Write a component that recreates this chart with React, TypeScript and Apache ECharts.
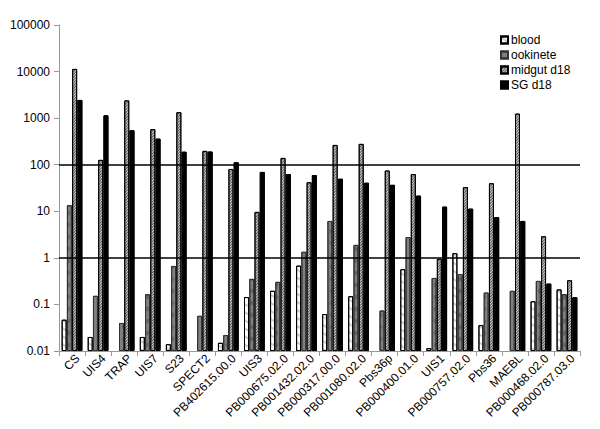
import React, { useEffect, useRef } from "react";
import * as echarts from "echarts";

const categories = [
  "CS", "UIS4", "TRAP", "UIS7", "S23", "SPECT2", "PB402615.00.0", "UIS3",
  "PB000675.02.0", "PB001432.02.0", "PB000317.00.0", "PB001080.02.0", "Pbs36p",
  "PB000400.01.0", "UIS1", "PB000757.02.0", "Pbs36", "MAEBL", "PB000468.02.0", "PB000787.03.0",
];

const blood = [0.047, 0.02, null, 0.02, 0.014, null, 0.015, 0.144, 0.196, 0.68, 0.062, 0.15, null, 0.57, 0.0115, 1.26, 0.036, null, 0.117, 0.21];
const ookinete = [13.5, 0.153, 0.04, 0.166, 0.67, 0.057, 0.022, 0.354, 0.305, 1.35, 6.2, 1.9, 0.074, 2.8, 0.37, 0.45, 0.18, 0.196, 0.32, 0.166];
const midgut = [11400, 127, 2400, 580, 1340, 198, 81, 9.7, 140, 42, 266, 280, 75, 63, 0.95, 33, 40, 1250, 2.9, 0.33];
const sg = [2460, 1150, 550, 363, 190, 192, 113, 70, 63, 60, 50, 41, 37, 21.7, 12.6, 11.4, 7.5, 6.2, 0.28, 0.143];

const refLines = [1, 100];

const FONT = "Liberation Sans, Arial, sans-serif";

export default function App() {
  const ref = useRef<HTMLDivElement>(null);
  useEffect(() => {
    if (!ref.current) return;
    const chart = echarts.init(ref.current, null, { renderer: "svg" });
    chart.setOption({
      animation: false,
      backgroundColor: "#fff",
      aria: { enabled: true, decal: { show: true } },
      textStyle: { fontFamily: FONT },
      grid: { left: 59, right: 20, top: 25, bottom: 78, containLabel: false },
      legend: {
        orient: "vertical",
        left: 500,
        top: 34,
        padding: 0,
        icon: "rect",
        itemWidth: 7,
        itemHeight: 7,
        itemGap: 3,
        textStyle: { fontSize: 12, color: "#000", fontFamily: FONT, padding: [0, 0, 0, -2] },
        data: ["blood", "ookinete", "midgut d18", "SG d18"],
      },
      xAxis: {
        type: "category",
        data: categories,
        axisLine: { lineStyle: { color: "#999", width: 1 } },
        axisTick: { show: true, lineStyle: { color: "#999" }, length: 5 },
        axisLabel: {
          rotate: 45,
          interval: 0,
          fontSize: 12,
          color: "#000",
          fontFamily: FONT,
          margin: 11,
          padding: [0, -8, 0, 0],
        },
      },
      yAxis: {
        type: "log",
        logBase: 10,
        min: 0.01,
        max: 100000,
        startValue: 0.01,
        splitLine: { show: false },
        axisLine: { show: true, lineStyle: { color: "#999", width: 1 } },
        axisTick: { show: true, lineStyle: { color: "#999" }, length: 5 },
        axisLabel: {
          fontSize: 12,
          color: "#000",
          fontFamily: FONT,
          margin: 9,
          formatter: (v: number) => String(v),
        },
      },
      series: [
        {
          name: "blood",
          type: "bar",
          data: blood,
          barWidth: 5,
          barGap: "5%",
          barCategoryGap: "20%",
          itemStyle: { color: "#fff", borderColor: "#000", borderWidth: 1, decal: "none" },
          markLine: {
            silent: true,
            symbol: "none",
            label: { show: false },
            lineStyle: { color: "#000", width: 1.5, type: "solid" },
            data: refLines.map((v) => ({ yAxis: v })),
          },
        },
        {
          name: "ookinete",
          type: "bar",
          data: ookinete,
          barWidth: 5,
          barGap: "5%",
          itemStyle: { color: "#808080", borderColor: "#333", borderWidth: 1, decal: "none" },
        },
        {
          name: "midgut d18",
          type: "bar",
          data: midgut,
          barWidth: 5,
          barGap: "5%",
          itemStyle: {
            color: "#cfcfcf",
            borderColor: "#000",
            borderWidth: 1,
            decal: {
              symbol: "rect",
              symbolSize: 1,
              color: "#555",
              dashArrayX: [1, 0],
              dashArrayY: [1, 1],
              rotation: -Math.PI / 4,
            },
          },
        },
        {
          name: "SG d18",
          type: "bar",
          data: sg,
          barWidth: 5,
          barGap: "5%",
          itemStyle: { color: "#000", borderColor: "#000", borderWidth: 1, decal: "none" },
        },
      ],
    });
    return () => chart.dispose();
  }, []);
  return <div ref={ref} style={{ width: 600, height: 429, position: "absolute", left: 0, top: 0 }} />;
}
